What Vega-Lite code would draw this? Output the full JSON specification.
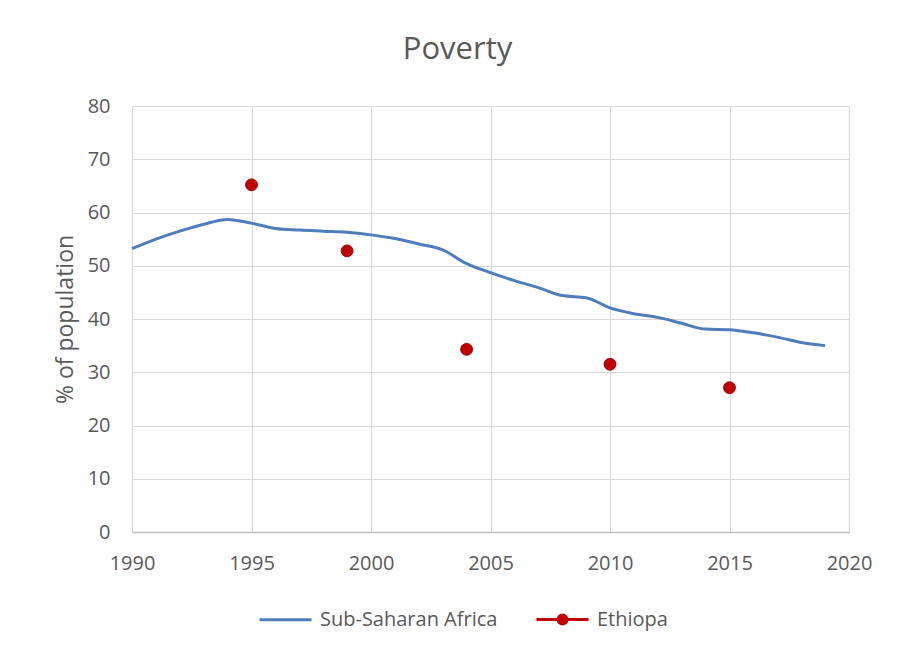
{
  "$schema": "https://vega.github.io/schema/vega-lite/v6.json",
  "autosize": {"type": "none"},
  "padding": {"left": 132, "top": 106, "right": 64, "bottom": 125},
  "width": 717,
  "height": 426,
  "background": "white",
  "title": {
    "text": "Poverty",
    "fontSize": 31,
    "font": "Open Sans",
    "fontWeight": "normal",
    "color": "#595959",
    "anchor": "middle",
    "frame": "group",
    "baseline": "alphabetic",
    "offset": 6,
    "dx": -33
  },
  "config": {
    "font": "Open Sans",
    "view": {"stroke": null},
    "axis": {
      "labelFont": "Open Sans",
      "titleFont": "Open Sans",
      "labelColor": "#595959",
      "titleColor": "#595959",
      "labelFontSize": 20,
      "titleFontSize": 23,
      "titleFontWeight": "normal",
      "gridColor": "#d9d9d9",
      "gridWidth": 1.2,
      "ticks": false
    }
  },
  "datasets": {
    "ssa": [
      {"series": "Sub-Saharan Africa", "year": 1990, "value": 53.2},
      {"series": "Sub-Saharan Africa", "year": 1991, "value": 55.0},
      {"series": "Sub-Saharan Africa", "year": 1992, "value": 56.5},
      {"series": "Sub-Saharan Africa", "year": 1993, "value": 57.8},
      {"series": "Sub-Saharan Africa", "year": 1994, "value": 58.7},
      {"series": "Sub-Saharan Africa", "year": 1995, "value": 58.0},
      {"series": "Sub-Saharan Africa", "year": 1996, "value": 57.0},
      {"series": "Sub-Saharan Africa", "year": 1997, "value": 56.7},
      {"series": "Sub-Saharan Africa", "year": 1998, "value": 56.5},
      {"series": "Sub-Saharan Africa", "year": 1999, "value": 56.3},
      {"series": "Sub-Saharan Africa", "year": 2000, "value": 55.8},
      {"series": "Sub-Saharan Africa", "year": 2001, "value": 55.1},
      {"series": "Sub-Saharan Africa", "year": 2002, "value": 54.1},
      {"series": "Sub-Saharan Africa", "year": 2003, "value": 53.0},
      {"series": "Sub-Saharan Africa", "year": 2004, "value": 50.4},
      {"series": "Sub-Saharan Africa", "year": 2005, "value": 48.7},
      {"series": "Sub-Saharan Africa", "year": 2006, "value": 47.2},
      {"series": "Sub-Saharan Africa", "year": 2007, "value": 45.9},
      {"series": "Sub-Saharan Africa", "year": 2008, "value": 44.4},
      {"series": "Sub-Saharan Africa", "year": 2009, "value": 44.0},
      {"series": "Sub-Saharan Africa", "year": 2010, "value": 42.1},
      {"series": "Sub-Saharan Africa", "year": 2011, "value": 41.0},
      {"series": "Sub-Saharan Africa", "year": 2012, "value": 40.3},
      {"series": "Sub-Saharan Africa", "year": 2013, "value": 39.2},
      {"series": "Sub-Saharan Africa", "year": 2014, "value": 38.1},
      {"series": "Sub-Saharan Africa", "year": 2015, "value": 38.0},
      {"series": "Sub-Saharan Africa", "year": 2016, "value": 37.4},
      {"series": "Sub-Saharan Africa", "year": 2017, "value": 36.6},
      {"series": "Sub-Saharan Africa", "year": 2018, "value": 35.6},
      {"series": "Sub-Saharan Africa", "year": 2019, "value": 35.0}
    ],
    "eth": [
      {"series": "Ethiopa", "year": 1995, "value": 65.2},
      {"series": "Ethiopa", "year": 1999, "value": 52.8},
      {"series": "Ethiopa", "year": 2004, "value": 34.3},
      {"series": "Ethiopa", "year": 2010, "value": 31.5},
      {"series": "Ethiopa", "year": 2015, "value": 27.1}
    ]
  },
  "encoding": {
    "x": {
      "field": "year",
      "type": "quantitative",
      "scale": {"domain": [1990, 2020], "nice": false, "zero": false},
      "axis": {
        "title": null,
        "values": [1990, 1995, 2000, 2005, 2010, 2015, 2020],
        "format": "d",
        "labelPadding": 21,
        "domainColor": "#bfbfbf",
        "domainWidth": 1.5,
        "labelFlush": false
      }
    },
    "y": {
      "field": "value",
      "type": "quantitative",
      "scale": {"domain": [0, 80], "nice": false},
      "axis": {
        "title": "% of population",
        "values": [0, 10, 20, 30, 40, 50, 60, 70, 80],
        "domain": false,
        "labelPadding": 22,
        "titlePadding": 10
      }
    },
    "color": {
      "field": "series",
      "type": "nominal",
      "scale": {"domain": ["Sub-Saharan Africa", "Ethiopa"], "range": ["#4f7cba", "#c00000"]},
      "legend": {
        "title": null,
        "orient": "none",
        "direction": "horizontal",
        "legendX": 126,
        "legendY": 486,
        "labelFont": "Open Sans",
        "labelFontSize": 20,
        "labelColor": "#595959",
        "labelLimit": 0,
        "labelOffset": 7,
        "columnPadding": 32,
        "symbolType": "stroke",
        "symbolSize": 2704,
        "symbolStrokeWidth": 3,
        "symbolOpacity": 1,
        "encode": {
          "symbols": {
            "update": {
              "shape": {"signal": "datum.value === 'Ethiopa' ? 'M-1,0H1M-0.17,0A0.17,0.17,0,1,1,0.17,0A0.17,0.17,0,1,1,-0.17,0Z' : 'stroke'"},
              "fill": {"signal": "datum.value === 'Ethiopa' ? '#c00000' : 'transparent'"},
              "stroke": {"signal": "datum.value === 'Ethiopa' ? '#c00000' : '#4f7cba'"},
              "strokeWidth": {"value": 3},
              "opacity": {"value": 1}
            }
          }
        }
      }
    }
  },
  "layer": [
    {
      "data": {"name": "ssa"},
      "mark": {"type": "line", "interpolate": "monotone", "strokeWidth": 3}
    },
    {
      "data": {"name": "eth"},
      "mark": {"type": "point", "filled": true, "size": 140, "opacity": 1, "stroke": "#9a0000", "strokeWidth": 1}
    }
  ]
}
